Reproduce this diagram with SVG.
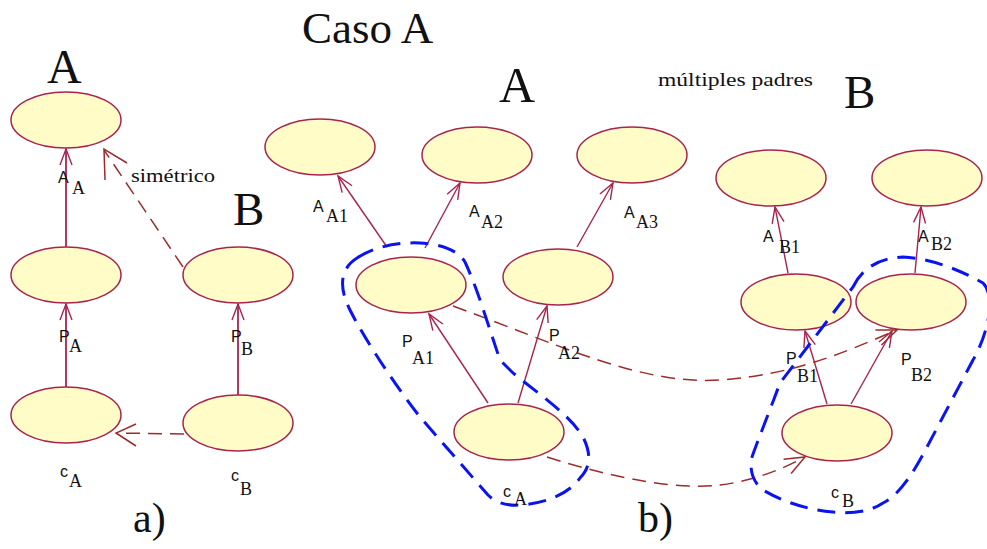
<svg xmlns="http://www.w3.org/2000/svg" width="987" height="549" viewBox="0 0 987 549">
<style>
.nd{fill:#FFFCC8;stroke:#A8244E;stroke-width:1.5}
.ln{fill:none;stroke:#A8244E;stroke-width:1.4}
.la{stroke-width:1.8}
.dl{fill:none;stroke:#9E2B2B;stroke-width:1.5;stroke-dasharray:14 8}
.bl{fill:none;stroke:#0A14F0;stroke-width:3;stroke-dasharray:18 10}
.big{font-family:"Liberation Serif","DejaVu Serif",serif;fill:#111}
.lb{font-family:"Liberation Sans","DejaVu Sans",sans-serif;font-size:16px;fill:#111}
.sb{font-family:"Liberation Serif","DejaVu Serif",serif;font-size:18px;fill:#111}
.tx{font-family:"Liberation Serif","DejaVu Serif",serif;font-size:19px;fill:#111}
</style>
<defs>
<marker id="ah" markerUnits="userSpaceOnUse" markerWidth="20" markerHeight="20" orient="auto" refX="0" refY="0" viewBox="-18 -9 20 18" overflow="visible">
<path d="M-16,-6 L0,0 L-16,6" fill="none" stroke="#A8244E" stroke-width="1.4"/>
</marker>
<marker id="ahd" markerUnits="userSpaceOnUse" markerWidth="20" markerHeight="20" orient="auto" refX="0" refY="0" viewBox="-18 -9 20 18" overflow="visible">
<path d="M-20,-8 L0,0 L-20,8" fill="none" stroke="#9E2B2B" stroke-width="1.5"/>
</marker>
</defs>
<rect width="987" height="549" fill="#fff"/>

<!-- titles -->
<text class="big" x="302" y="43" font-size="45">Caso A</text>
<text class="big" x="47" y="83" font-size="48">A</text>
<text class="big" x="233" y="225" font-size="47">B</text>
<text class="big" x="499" y="102" font-size="50">A</text>
<text class="big" x="844" y="108" font-size="47">B</text>
<text class="big" x="133" y="532" font-size="42">a)</text>
<text class="big" x="638" y="532" font-size="42">b)</text>
<text class="tx" x="131" y="182" textLength="84" lengthAdjust="spacingAndGlyphs">simétrico</text>
<text class="tx" x="658" y="86" textLength="155" lengthAdjust="spacingAndGlyphs">múltiples padres</text>

<!-- nodes a) -->
<g id="a_A"><ellipse class="nd" cx="66" cy="120" rx="55" ry="28"/></g>
<g id="a_PA"><ellipse class="nd" cx="66" cy="275" rx="55" ry="28"/></g>
<g id="a_CA"><ellipse class="nd" cx="66" cy="415" rx="55" ry="28"/></g>
<g id="a_PB"><ellipse class="nd" cx="238" cy="275" rx="55" ry="28"/></g>
<g id="a_CB"><ellipse class="nd" cx="238" cy="423" rx="55" ry="28"/></g>

<!-- nodes b) -->
<g id="b_AA1"><ellipse class="nd" cx="320" cy="147" rx="55" ry="28"/></g>
<g id="b_AA2"><ellipse class="nd" cx="477" cy="155" rx="55" ry="28"/></g>
<g id="b_AA3"><ellipse class="nd" cx="632" cy="155" rx="55" ry="28"/></g>
<g id="b_PA1"><ellipse class="nd" cx="411" cy="285" rx="55" ry="28"/></g>
<g id="b_PA2"><ellipse class="nd" cx="558" cy="277" rx="55" ry="28"/></g>
<g id="b_CA"><ellipse class="nd" cx="509" cy="432" rx="55" ry="28"/></g>
<g id="b_AB1"><ellipse class="nd" cx="771" cy="178" rx="55" ry="28"/></g>
<g id="b_AB2"><ellipse class="nd" cx="927" cy="178" rx="55" ry="28"/></g>
<g id="b_PB1"><ellipse class="nd" cx="796" cy="302" rx="55" ry="28"/></g>
<g id="b_PB2"><ellipse class="nd" cx="911" cy="302" rx="55" ry="28"/></g>
<g id="b_CB"><ellipse class="nd" cx="837" cy="433" rx="55" ry="28"/></g>

<!-- connectors -->
<g id="connectors">
<line class="ln la" x1="66" y1="247" x2="66" y2="149" marker-end="url(#ah)"/>
<line class="ln la" x1="66" y1="387" x2="66" y2="304" marker-end="url(#ah)"/>
<line class="ln la" x1="238" y1="395" x2="238" y2="304" marker-end="url(#ah)"/>
<line class="dl" x1="183" y1="267" x2="104" y2="150"/>
<path d="M105,180 L104,149 L127,163" fill="none" stroke="#9E2B2B" stroke-width="1.5"/>
<line class="dl" x1="184" y1="434" x2="116" y2="433"/>
<path d="M136,424 L116,433 L136,446" fill="none" stroke="#9E2B2B" stroke-width="1.5"/>

<line class="ln" x1="387" y1="247" x2="338" y2="176" marker-end="url(#ah)"/>
<line class="ln" x1="425" y1="248" x2="460" y2="183" marker-end="url(#ah)"/>
<line class="ln" x1="577" y1="247" x2="613" y2="183" marker-end="url(#ah)"/>
<line class="ln" x1="488" y1="403" x2="429" y2="314" marker-end="url(#ah)"/>
<line class="ln" x1="518" y1="403" x2="547" y2="306" marker-end="url(#ah)"/>
<line class="ln" x1="788" y1="273" x2="775" y2="207" marker-end="url(#ah)"/>
<line class="ln" x1="915" y1="273" x2="921" y2="207" marker-end="url(#ah)"/>
<line class="ln" x1="827" y1="404" x2="805" y2="331" marker-end="url(#ah)"/>
<line class="ln" x1="851" y1="404" x2="892" y2="331" marker-end="url(#ah)"/>
<path class="dl" d="M453,306 C560,345 640,385 720,380 C800,375 860,345 897,330" marker-end="url(#ahd)"/>
<path class="dl" d="M547,457 C620,480 680,490 720,485 C760,480 790,465 805,457" marker-end="url(#ahd)"/>
</g>

<!-- groupings -->
<path class="bl" d="M357,258 C375,246 400,242 420,243 C440,244 458,250 465,262 C478,290 488,325 500,360 L513,373 C540,395 570,415 583,437 C592,455 590,468 580,478 C570,492 550,503 520,505 C505,506 495,502 488,495 L420,417 C395,385 365,340 350,310 C340,290 338,270 357,258 Z"/>
<path class="bl" d="M853,287 C860,272 875,258 903,257 C930,258 960,270 983,283 C995,295 990,330 973,360 L927,447 C915,470 900,495 883,503 C870,512 850,514 833,512 C810,510 785,503 763,490 C750,480 750,465 752,457 C758,440 770,410 780,383 L853,287 Z"/>

<!-- labels a) -->
<text class="lb" x="58" y="183">A<tspan class="sb" x="72" y="194">A</tspan></text>
<text class="lb" x="59" y="342">P<tspan class="sb" x="69" y="352">A</tspan></text>
<text class="lb" x="231" y="342">P<tspan class="sb" x="241" y="355">B</tspan></text>
<text class="lb" x="60" y="477">c<tspan class="sb" x="69" y="487">A</tspan></text>
<text class="lb" x="231" y="481">c<tspan class="sb" x="240" y="495">B</tspan></text>

<!-- labels b) -->
<text class="lb" x="313" y="212">A<tspan class="sb" x="326" y="222">A1</tspan></text>
<text class="lb" x="469" y="217">A<tspan class="sb" x="481" y="228">A2</tspan></text>
<text class="lb" x="624" y="218">A<tspan class="sb" x="636" y="228">A3</tspan></text>
<text class="lb" x="402" y="347">P<tspan class="sb" x="412" y="364">A1</tspan></text>
<text class="lb" x="549" y="341">P<tspan class="sb" x="558" y="359">A2</tspan></text>
<text class="lb" x="503" y="497">c<tspan class="sb" x="514" y="505">A</tspan></text>
<text class="lb" x="763" y="242">A<tspan class="sb" x="779" y="253">B1</tspan></text>
<text class="lb" x="918" y="242">A<tspan class="sb" x="931" y="250">B2</tspan></text>
<text class="lb" x="786" y="364">P<tspan class="sb" x="797" y="382">B1</tspan></text>
<text class="lb" x="901" y="365">P<tspan class="sb" x="911" y="381">B2</tspan></text>
<text class="lb" x="831" y="498">c<tspan class="sb" x="842" y="507">B</tspan></text>
</svg>
